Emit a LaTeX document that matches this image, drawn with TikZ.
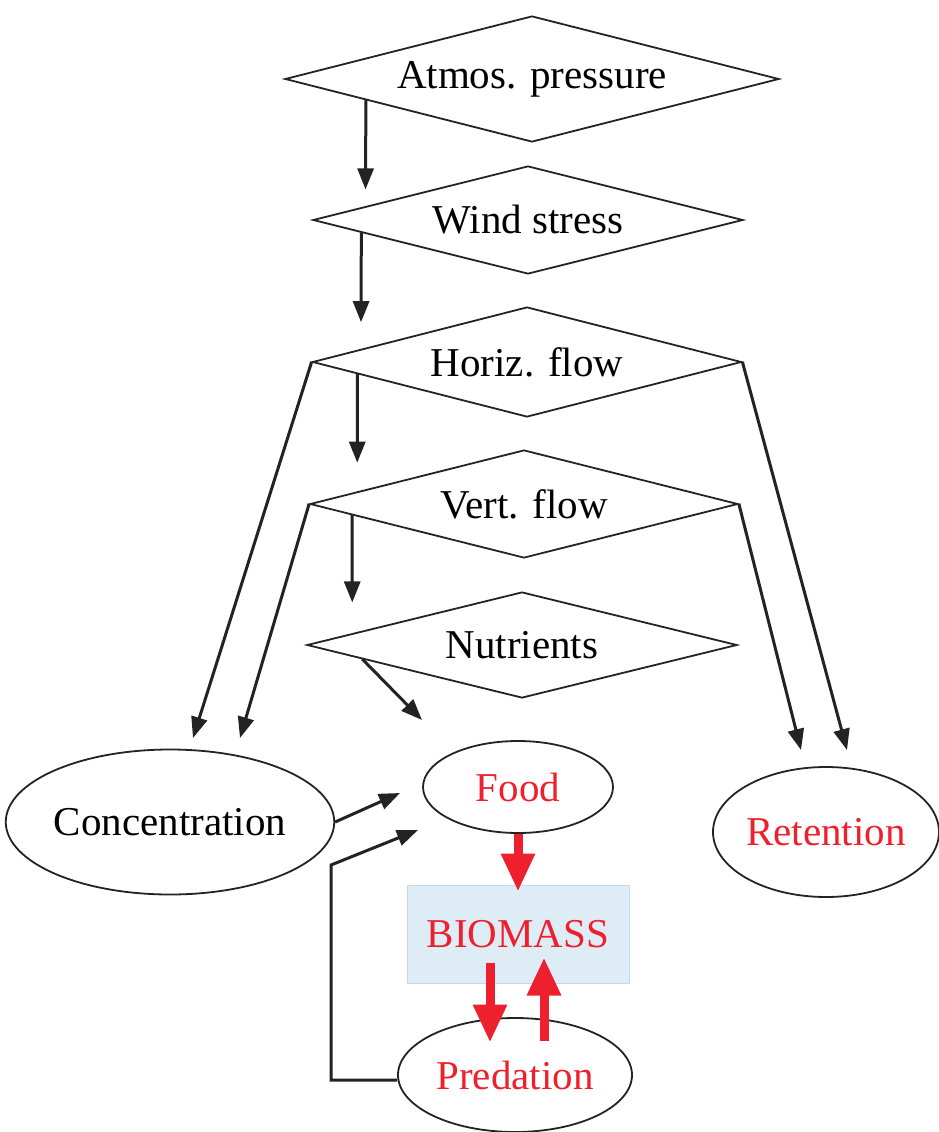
\documentclass[tikz,border=0pt]{standalone}
\usepackage{fontspec}
\setmainfont{Liberation Serif}
\usetikzlibrary{shapes.geometric,arrows.meta,calc}
\definecolor{ink}{RGB}{35,35,35}
\definecolor{myred}{RGB}{238,32,45}
\definecolor{boxblue}{RGB}{222,236,246}
\definecolor{boxline}{RGB}{198,218,234}
\begin{document}
\begin{tikzpicture}[x=1pt,y=-1pt,
  font=\fontsize{41pt}{48pt}\selectfont,
  dia/.style={diamond, draw=ink, line width=1.8pt, inner sep=0pt, text=black, aspect=3.95},
  ell/.style={ellipse, draw=ink, line width=1.8pt, inner sep=0pt},
  redtext/.style={text=myred},
  arr/.style={draw=ink, line width=3pt, line join=miter, -{Triangle[length=21pt,width=16pt]}},
  rarr/.style={draw=myred, line width=9pt, -{Triangle[length=38pt,width=32pt]}}]
\useasboundingbox (0,0) rectangle (939,1132);

% diamonds
\node[dia, minimum width=494pt, minimum height=126pt] (atm) at (532,79) {Atmos. pressure};
\node[dia, minimum width=430pt, minimum height=108pt] (wind) at (528,220) {Wind stress};
\node[dia, minimum width=429pt, minimum height=110pt] (horiz) at (527,362) {Horiz. flow};
\node[dia, minimum width=428pt, minimum height=108pt] (vert) at (524,504) {Vert. flow};
\node[dia, minimum width=430pt, minimum height=106pt] (nutr) at (522,645) {Nutrients};

% ellipses and box
\node[ell, minimum width=316pt, minimum height=145pt] (conc) at (170,822) {Concentration};
\node[ell, redtext, minimum width=190pt, minimum height=92pt] (food) at (518,787) {Food};
\node[ell, redtext, minimum width=226pt, minimum height=130pt] (ret) at (826,832) {Retention};
\node[ell, redtext, minimum width=234pt, minimum height=114pt] (pred) at (515,1075) {Predation};
\node[draw=boxline, fill=boxblue, line width=1pt, inner sep=0pt, redtext,
      minimum width=222pt, minimum height=98pt] (bio) at (518,934) {BIOMASS};

% free ends
\coordinate (cA) at (193,738);
\coordinate (cB) at (240,738);
\coordinate (rA) at (801,750);
\coordinate (rB) at (847,750);
\coordinate (fA) at (422,720);
\coordinate (fB) at (400,793);
\coordinate (fC) at (418,830);
\coordinate (k1) at (331,1080);
\coordinate (k2) at (331,865);

% vertical chain
\draw[arr, shorten >=17pt] ($(atm.west)!0.33!(atm.south)$) -- ($(wind.west)!0.247!(wind.north)$);
\draw[arr, shorten >=27pt] ($(wind.west)!0.228!(wind.south)$) -- ($(horiz.west)!0.229!(horiz.north)$);
\draw[arr, shorten >=29pt] ($(horiz.west)!0.212!(horiz.south)$) -- ($(vert.west)!0.224!(vert.north)$);
\draw[arr, shorten >=31pt] ($(vert.west)!0.2!(vert.south)$) -- ($(nutr.west)!0.214!(nutr.north)$);
\draw[arr] ($(nutr.west)!0.26!(nutr.south)$) -- (fA);

% side arrows
\draw[arr] (horiz.west) -- (cA);
\draw[arr] (vert.west) -- (cB);
\draw[arr] (horiz.east) -- (rB);
\draw[arr] (vert.east) -- (rA);

% into food
\draw[arr] (conc.east) -- (fB);
\draw[arr] (k1 -| pred.west) -- (k1) -- (k2) -- (fC);

% red arrows
\draw[rarr] (food.south) -- ([yshift=-7pt]bio.north);
\draw[rarr] ($(bio.south)+(-28,-21)$) -- ($(bio.south)+(-28,59)$);
\draw[rarr] ($(bio.south)+(26,57)$) -- ($(bio.south)+(26,-26)$);
\end{tikzpicture}
\end{document}
